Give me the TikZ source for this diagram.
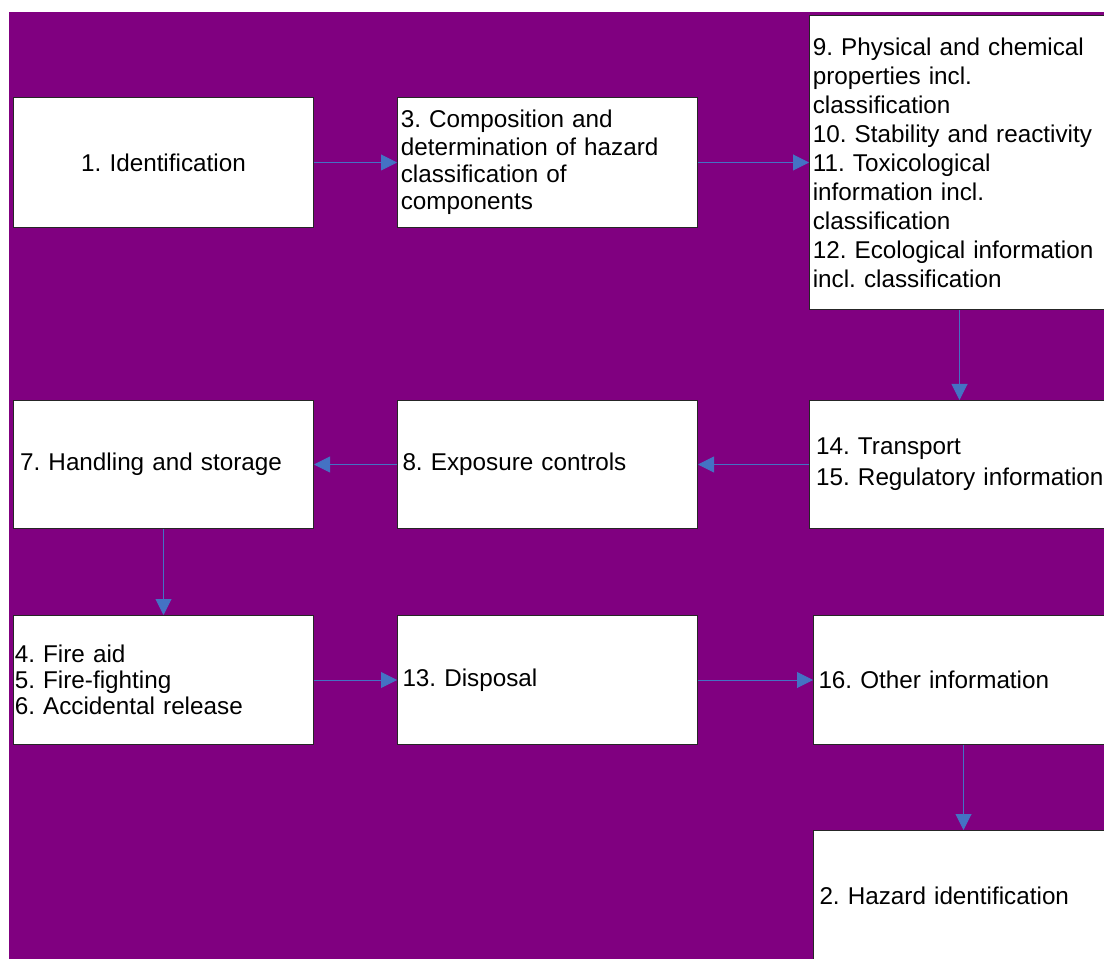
\documentclass[tikz,border=0pt]{standalone}
\usepackage{fontspec}
\setmainfont{Liberation Sans}
\usetikzlibrary{arrows.meta}
\definecolor{bgpurple}{HTML}{800080}
\definecolor{arrowblue}{HTML}{4472C4}
\begin{document}
\frenchspacing
\begin{tikzpicture}[x=0.75pt,y=-0.75pt,
  box/.style={draw=black!85, line width=0.75pt, fill=white, anchor=north west,
    minimum width=225pt, inner ysep=0pt, inner xsep=3.75pt, text width=217.5pt,
    align=left, font=\fontsize{18.2}{20.5}\selectfont},
  rowa/.style={minimum height=97.5pt},
  rowb/.style={minimum height=96pt},
  rowc/.style={minimum height=96.75pt},
  flow/.style={draw=arrowblue, line width=0.75pt, -{Triangle[length=12pt,width=12pt]}}]
\useasboundingbox (0,0) rectangle (1104,959);
\clip (0,0) rectangle (1104,959);
\fill[bgpurple] (9,12) rectangle (1104,959);
% row 1
\node[box, rowa, align=center] (b1) at (13,97) {1. Identification};
\node[box, rowa, inner xsep=2.5pt, text width=220pt] (b3) at (397,97)
  {3. Composition and\\determination of hazard\\classification of\\components};
\node[box, minimum height=220.5pt, inner xsep=2.5pt, text width=220pt,
  font=\fontsize{18.2}{21.75}\selectfont] (b9) at (809,15)
  {\mbox{9. Physical and chemical}\\properties incl.\\classification\\\mbox{10. Stability and reactivity}\\11. Toxicological\\information incl.\\classification\\\mbox{12. Ecological information}\\incl. classification};
% row 2
\node[box, rowb, inner xsep=5pt, text width=215pt] (b7) at (13,400) {7. Handling and storage};
\node[box, rowb] (b8) at (397,400) {8. Exposure controls};
\node[box, rowb, inner xsep=5pt, text width=215pt,
  font=\fontsize{18.2}{23}\selectfont] (b14) at (809,400) {\mbox{14. Transport}\\\mbox{15. Regulatory information}};
% row 3
\node[box, rowc, inner xsep=1pt, text width=223pt,
  font=\fontsize{18.2}{19.5}\selectfont] (b4) at (13,615) {4. Fire aid\\5. Fire-fighting\\6. Accidental release};
\node[box, rowc] (b13) at (397,615) {13. Disposal};
\node[box, rowc] (b16) at (813,615) {\mbox{16. Other information}};
% row 4
\node[box, rowa, inner xsep=4.5pt, text width=216pt] (b2) at (813,830) {\mbox{2. Hazard identification}};
% connectors
\draw[flow] (b1.east) -- (b3.west);
\draw[flow] (b3.east) -- (b9.west);
\draw[flow] (b9.south) -- (b14.north);
\draw[flow] (b14.west) -- (b8.east);
\draw[flow] (b8.west) -- (b7.east);
\draw[flow] (b7.south) -- (b4.north);
\draw[flow] (b4.east) -- (b13.west);
\draw[flow] (b13.east) -- (b16.west);
\draw[flow] (b16.south) -- (b2.north);
\end{tikzpicture}
\end{document}
